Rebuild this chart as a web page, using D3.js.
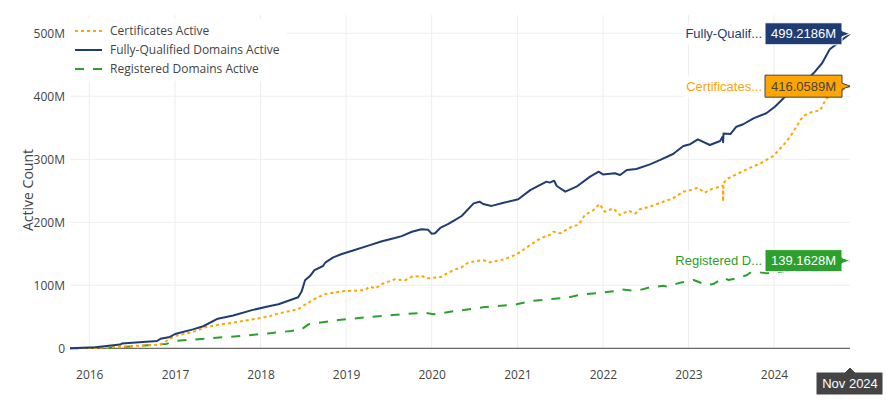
<!DOCTYPE html>
<html>
<head>
<meta charset="utf-8">
<script src="https://cdn.jsdelivr.net/npm/d3@7"></script>
<style>
  html, body { margin: 0; padding: 0; background: #fff; }
  svg { display: block; }
</style>
</head>
<body>
<svg id="chart" width="892" height="404"></svg>
<script>
// ---------------- DATA (decimal years, values in millions) ----------------
const seriesNames = ["Certificates Active", "Fully-Qualified Domains Active", "Registered Domains Active"];
const yTickValues = [0, 100, 200, 300, 400, 500];
const lastValues = [416.0589, 499.2186, 139.1628];
const lastLabel = "Nov 2024";

const certX = [2015.775, 2016.07, 2016.36, 2016.83, 2016.90, 2017.00, 2017.21, 2017.37, 2017.53, 2017.68, 2017.91, 2018.11, 2018.17, 2018.44, 2018.50, 2018.64, 2018.75, 2018.95, 2019.10, 2019.22, 2019.28, 2019.34, 2019.42, 2019.57, 2019.69, 2019.77, 2019.88, 2019.96, 2020.12, 2020.18, 2020.27, 2020.35, 2020.43, 2020.60, 2020.68, 2020.84, 2020.99, 2021.15, 2021.27, 2021.38, 2021.42, 2021.50, 2021.65, 2021.71, 2021.79, 2021.89, 2021.96, 2022.02, 2022.12, 2022.20, 2022.30, 2022.38, 2022.43, 2022.55, 2022.67, 2022.82, 2022.94, 2023.02, 2023.11, 2023.19, 2023.27, 2023.37, 2023.40, 2023.405, 2023.41, 2023.45, 2023.56, 2023.68, 2023.84, 2023.99, 2024.11, 2024.19, 2024.26, 2024.34, 2024.42, 2024.54, 2024.61, 2024.886];
const certY = [0, 0.5, 2.5, 6, 11.6, 19.5, 26, 34, 38, 40.6, 46, 51, 54, 62, 67.6, 79, 86, 90.5, 91.5, 92.5, 98, 95, 102, 109.5, 108, 113.6, 114.8, 111, 113.6, 119, 125, 128.6, 136.5, 140, 136.5, 141, 149, 164, 174.6, 180, 185, 182.5, 194, 195.7, 211.6, 219.5, 229, 216.8, 222, 211.6, 218.4, 214, 220.6, 224.8, 231, 238, 248.6, 251, 255, 247, 252.8, 256.5, 258, 232.7, 262, 268.7, 276, 284, 293.6, 305, 322.7, 336, 351.7, 368.7, 374, 378, 396.8, 416.0589];

const fqdnX = [2015.775, 2016.07, 2016.36, 2016.38, 2016.79, 2016.83, 2016.94, 2017.00, 2017.21, 2017.33, 2017.50, 2017.68, 2017.91, 2018.11, 2018.21, 2018.44, 2018.48, 2018.52, 2018.58, 2018.63, 2018.73, 2018.76, 2018.85, 2018.95, 2019.10, 2019.26, 2019.42, 2019.57, 2019.65, 2019.77, 2019.88, 2019.96, 2020.00, 2020.04, 2020.10, 2020.19, 2020.27, 2020.35, 2020.49, 2020.56, 2020.60, 2020.70, 2020.84, 2021.01, 2021.15, 2021.34, 2021.38, 2021.43, 2021.46, 2021.56, 2021.69, 2021.85, 2021.95, 2022.00, 2022.14, 2022.20, 2022.28, 2022.39, 2022.55, 2022.67, 2022.82, 2022.94, 2023.02, 2023.11, 2023.25, 2023.37, 2023.40, 2023.405, 2023.41, 2023.49, 2023.56, 2023.64, 2023.76, 2023.91, 2024.01, 2024.11, 2024.22, 2024.34, 2024.46, 2024.56, 2024.65, 2024.72, 2024.886];
const fqdnY = [0, 1.5, 6, 7.5, 11.6, 15, 18, 22.7, 30, 35, 47, 52, 61, 67, 70, 81, 90, 108, 115, 124, 130.6, 136.5, 144.4, 149.7, 156, 163, 170, 175, 178, 185, 189, 188, 182, 182.5, 191, 197, 203.6, 210, 230, 232.7, 229, 226, 231, 236.5, 251, 264.5, 263, 266, 257.6, 248.6, 256.5, 272.4, 280.3, 276, 277.8, 275, 283, 284.6, 292, 299, 308.4, 321, 324, 331.7, 322.7, 329, 336, 327, 341, 340, 351.7, 355.6, 365, 373, 383.5, 396.8, 410, 420.6, 436.5, 452.4, 474.6, 482, 499.2186];

const regX = [2015.775, 2016.24, 2016.44, 2016.90, 2017.00, 2017.41, 2017.76, 2018.11, 2018.36, 2018.48, 2018.52, 2018.56, 2018.91, 2019.30, 2019.69, 2019.92, 2020.02, 2020.27, 2020.60, 2020.99, 2021.19, 2021.58, 2021.67, 2021.77, 2021.97, 2022.16, 2022.22, 2022.36, 2022.43, 2022.53, 2022.71, 2022.75, 2022.90, 2023.06, 2023.21, 2023.29, 2023.41, 2023.47, 2023.56, 2023.68, 2023.72, 2023.80, 2023.91, 2024.07, 2024.15, 2024.30, 2024.60, 2024.886];
const regY = [0, 1, 2.5, 7, 11.6, 16, 19.5, 24, 27.5, 30, 34, 38, 45, 50, 54.4, 56.5, 54, 59, 65, 69.8, 75.6, 80.3, 83, 85.7, 88, 91, 93.6, 91.4, 92.5, 96, 99.4, 97.8, 104, 108.4, 100.5, 102, 112, 108.4, 111, 116, 120, 121.6, 119, 121.6, 123, 126, 132, 139.1628];

// ---------------- SETUP ----------------
const colors = ["#ffa500", "#1f3d73", "#2ca02c"];
const dashes = ["3,3", null, "9,9"];
const hoverText = ["#444", "#fff", "#fff"];
const hoverBorder = ["#444", "#fff", "#fff"];

function decYear(d) {
  const y = Math.floor(d);
  const a = Date.UTC(y, 0, 1), b = Date.UTC(y + 1, 0, 1);
  return new Date(a + (d - y) * (b - a));
}

const svg = d3.select("#chart");
const L = 70, R = 850, T = 15, B = 348.3;
const FONT = "'Open Sans', 'Noto Sans', sans-serif";

const x = d3.scaleUtc().domain([decYear(2015.775), decYear(2024.886)]).range([L, R]);
const y = d3.scaleLinear().domain([0, 529]).range([B, T]);

const series = [
  certX.map((d, i) => ({ date: decYear(d), v: certY[i] })),
  fqdnX.map((d, i) => ({ date: decYear(d), v: fqdnY[i] })),
  regX.map((d, i) => ({ date: decYear(d), v: regY[i] }))
];

// grid
const grid = svg.append("g");
const yearTicks = x.ticks(d3.utcYear.every(1)).filter(d => x(d) >= L && x(d) <= R);
grid.selectAll("line.v").data(yearTicks).join("line")
  .attr("x1", d => x(d)).attr("x2", d => x(d)).attr("y1", T).attr("y2", B)
  .attr("stroke", "#eee").attr("stroke-width", 1);
grid.selectAll("line.h").data(yTickValues.filter(v => v > 0)).join("line")
  .attr("x1", L).attr("x2", R).attr("y1", d => y(d)).attr("y2", d => y(d))
  .attr("stroke", "#eee").attr("stroke-width", 1);

// axes
const xAxis = svg.append("g").attr("transform", `translate(0,${B + 19})`)
  .call(d3.axisBottom(x).tickValues(yearTicks).tickFormat(d3.utcFormat("%Y")).tickSize(0));
xAxis.select(".domain").remove();
xAxis.selectAll("text").attr("font-family", FONT).attr("font-size", 12).attr("fill", "#444");

const yAxis = svg.append("g").attr("transform", `translate(${L - 2},0)`)
  .call(d3.axisLeft(y).tickValues(yTickValues).tickFormat(d => d === 0 ? "0" : d + "M").tickSize(0));
yAxis.select(".domain").remove();
yAxis.selectAll("text").attr("font-family", FONT).attr("font-size", 12).attr("fill", "#444");

svg.append("text")
  .attr("transform", `translate(33,190) rotate(-90)`)
  .attr("text-anchor", "middle")
  .attr("font-family", FONT).attr("font-size", 14).attr("fill", "#444")
  .text("Active Count");

// zero line
svg.append("line").attr("x1", L).attr("x2", R).attr("y1", y(0)).attr("y2", y(0))
  .attr("stroke", "#444").attr("stroke-width", 1);

// lines
const line = d3.line().x(d => x(d.date)).y(d => y(d.v));
[2, 0, 1].forEach(i => {
  svg.append("path").datum(series[i])
    .attr("d", line)
    .attr("fill", "none")
    .attr("stroke", colors[i])
    .attr("stroke-width", 2)
    .attr("stroke-linejoin", "round")
    .attr("stroke-dasharray", dashes[i]);
});

// legend
const lg = svg.append("g");
lg.append("rect").attr("x", 71).attr("y", 19).attr("width", 216).attr("height", 62).attr("fill", "#fff");
seriesNames.forEach((n, i) => {
  const cy = 31 + i * 19;
  lg.append("line").attr("x1", 75).attr("x2", 102).attr("y1", cy).attr("y2", cy)
    .attr("stroke", colors[i]).attr("stroke-width", 2).attr("stroke-dasharray", dashes[i]);
  lg.append("text").attr("x", 110).attr("y", cy + 4.2)
    .attr("font-family", FONT).attr("font-size", 12).attr("fill", "#444").text(n);
});

// hover labels
const HFONT = "Arial, 'Liberation Sans', sans-serif";
const shortNames = seriesNames.map(n => n.length > 15 ? n.slice(0, 12) + "..." : n);
const px = x(series[0][series[0].length - 1].date);
[1, 0, 2].forEach(i => {
  const py = y(lastValues[i]);
  const g = svg.append("g");
  const bx0 = px - 85, bx1 = px - 8, h = 22;
  const nameT = g.append("text").attr("x", bx0 - 3).attr("y", py + 4.5)
    .attr("text-anchor", "end").attr("font-family", HFONT).attr("font-size", 13)
    .attr("fill", colors[i]).text(shortNames[i]);
  const bb = nameT.node().getBBox();
  g.insert("rect", "text").attr("x", bb.x - 3).attr("y", py - h / 2).attr("width", bx0 - bb.x + 3).attr("height", h)
    .attr("fill", "#fff").attr("opacity", 0.8);
  g.append("path")
    .attr("d", `M${bx0},${py - h / 2}H${bx1}V${py - 3}L${px},${py}L${bx1},${py + 3}V${py + h / 2}H${bx0}Z`)
    .attr("fill", colors[i]).attr("stroke", hoverBorder[i]).attr("stroke-width", 1);
  g.append("text").attr("x", (bx0 + bx1) / 2).attr("y", py + 4.5)
    .attr("text-anchor", "middle").attr("font-family", HFONT).attr("font-size", 13)
    .attr("fill", hoverText[i]).text(lastValues[i].toFixed(4) + "M");
});

// x hover label
const xg = svg.append("g");
const ty = 367;
xg.append("path")
  .attr("d", `M${px},${ty}L${px + 5},${ty + 5}H${px + 33}V${ty + 28}H${px - 34}V${ty + 5}H${px - 5}Z`)
  .attr("fill", "#444").attr("stroke", "#fff").attr("stroke-width", 1);
xg.append("text").attr("x", px).attr("y", ty + 21)
  .attr("text-anchor", "middle").attr("font-family", HFONT).attr("font-size", 13)
  .attr("fill", "#fff").text(lastLabel);
</script>
</body>
</html>
